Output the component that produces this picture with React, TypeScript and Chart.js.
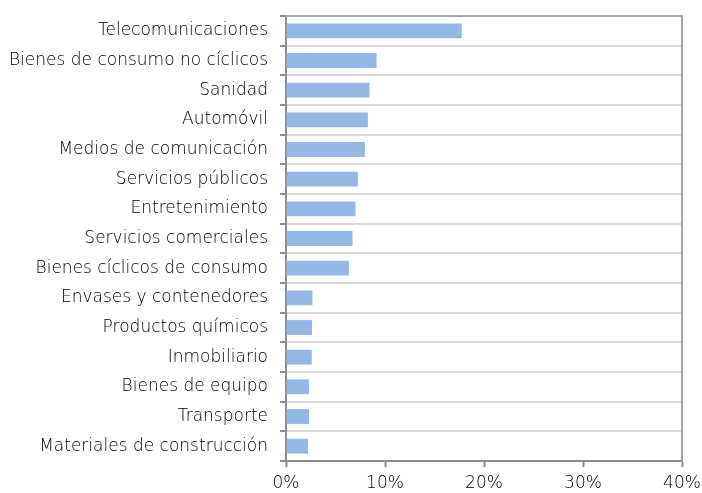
import React, { useEffect, useRef } from "react";
import { Chart, registerables } from "chart.js";

Chart.register(...registerables);

const categories = [
  "Telecomunicaciones",
  "Bienes de consumo no cíclicos",
  "Sanidad",
  "Automóvil",
  "Medios de comunicación",
  "Servicios públicos",
  "Entretenimiento",
  "Servicios comerciales",
  "Bienes cíclicos de consumo",
  "Envases y contenedores",
  "Productos químicos",
  "Inmobiliario",
  "Bienes de equipo",
  "Transporte",
  "Materiales de construcción",
];

const values = [17.75, 9.15, 8.44, 8.27, 7.97, 7.26, 7.02, 6.72, 6.35, 2.67, 2.63, 2.6, 2.33, 2.33, 2.23];

const xTicks = [0, 10, 20, 30, 40];

const FONT = "'DejaVu Sans', sans-serif";

const borderPlugin = {
  id: "plotBorder",
  afterDraw(chart: any) {
    const { ctx, chartArea } = chart;
    ctx.save();
    ctx.strokeStyle = "#a6a6a6";
    ctx.lineWidth = 2;
    ctx.beginPath();
    ctx.moveTo(chartArea.left, chartArea.top);
    ctx.lineTo(chartArea.right, chartArea.top);
    ctx.lineTo(chartArea.right, chartArea.bottom);
    ctx.stroke();
    ctx.restore();
  },
};

export default function App() {
  const ref = useRef<HTMLCanvasElement>(null);
  useEffect(() => {
    if (!ref.current) return;
    const chart = new Chart(ref.current, {
      type: "bar",
      data: {
        labels: categories,
        datasets: [
          {
            data: values,
            backgroundColor: "#95b7e3",
            borderWidth: 0,
            barPercentage: 0.5,
            categoryPercentage: 1,
          },
        ],
      },
      options: {
        indexAxis: "y",
        animation: false,
        responsive: false,
        maintainAspectRatio: false,
        layout: { padding: { top: 16, right: 20, left: 0, bottom: 0 } },
        plugins: { legend: { display: false }, tooltip: { enabled: false } },
        scales: {
          x: {
            min: 0,
            max: 40,
            afterBuildTicks: (scale: any) => {
              scale.ticks = xTicks.map((v) => ({ value: v }));
            },
            afterFit: (scale: any) => {
              scale.height = 32;
              scale.paddingLeft = 0;
              scale.paddingRight = 0;
            },
            grid: {
              drawOnChartArea: false,
              drawTicks: true,
              tickLength: 6,
              tickColor: "#8c8c8c",
              tickWidth: 2,
            },
            border: { color: "#8c8c8c", width: 2 },
            ticks: {
              padding: 6,
              color: "#000000",
              font: { family: FONT, size: 17, weight: 200 },
              callback: (v: any) => v + "%",
              maxRotation: 0,
            },
          },
          y: {
            afterFit: (scale: any) => {
              scale.width = 286;
              scale.paddingTop = 0;
              scale.paddingBottom = 0;
            },
            grid: {
              color: "#d9d9d9",
              lineWidth: 2,
              offset: true,
              tickLength: 6,
              tickColor: "#8c8c8c",
              tickWidth: 2,
            },
            border: { color: "#8c8c8c", width: 2 },
            ticks: {
              padding: 12,
              color: "#000000",
              font: { family: FONT, size: 17, weight: 200 },
              autoSkip: false,
            },
          },
        },
      },
      plugins: [borderPlugin],
    });
    return () => chart.destroy();
  }, []);
  return (
    <div style={{ position: "fixed", left: 0, top: 0, width: 702, height: 493, background: "#fff" }}>
      <canvas ref={ref} width={702} height={493} style={{ width: 702, height: 493 }} />
    </div>
  );
}
